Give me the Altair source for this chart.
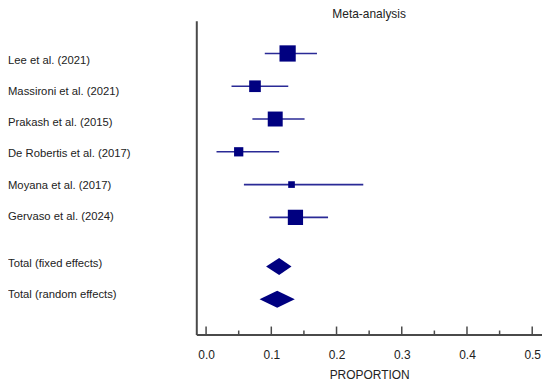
import altair as alt
import pandas as pd

# ---- data ----
studies = ["Lee et al. (2021)", "Massironi et al. (2021)", "Prakash et al. (2015)",
           "De Robertis et al. (2017)", "Moyana et al. (2017)", "Gervaso et al. (2024)"]
study_row = [1, 2, 3, 4, 5, 6]
study_est = [0.125, 0.075, 0.106, 0.050, 0.131, 0.137]
study_lo = [0.090, 0.039, 0.071, 0.016, 0.058, 0.097]
study_hi = [0.170, 0.126, 0.151, 0.112, 0.241, 0.187]
study_weight = [26.8, 13.8, 22.7, 8.7, 4.5, 23.6]  # relative weight, %

totals = ["Total (fixed effects)", "Total (random effects)"]
total_row = [7.5, 8.5]
total_est = [0.112, 0.109]
total_lo = [0.092, 0.082]
total_hi = [0.131, 0.136]

major_ticks = [0.0, 0.1, 0.2, 0.3, 0.4, 0.5]
minor_ticks = [0.05, 0.15, 0.25, 0.35, 0.45]

# ---- tables ----
df_s = pd.DataFrame({"label": studies, "row": study_row, "est": study_est,
                     "lo": study_lo, "hi": study_hi, "w": study_weight})
half_h = 0.26  # diamond half-height in row units
poly = []
for lab, r, e, lo, hi in zip(totals, total_row, total_est, total_lo, total_hi):
    poly.append({"label": lab, "x": lo, "y": r, "y2": r})
    poly.append({"label": lab, "x": e, "y": r - half_h, "y2": r + half_h})
    poly.append({"label": lab, "x": hi, "y": r, "y2": r})
df_d = pd.DataFrame(poly)
df_lab = pd.DataFrame({"label": studies + totals, "row": study_row + total_row})
df_maj = pd.DataFrame({"t": major_ticks})
df_min = pd.DataFrame({"t": minor_ticks})

W, H = 347, 315
FONT = "Liberation Sans"
AX = "#4a4a4a"
NAVY = "#000080"

xs = alt.Scale(domain=[-0.015, 0.515], nice=False, zero=False)
ys = alt.Scale(domain=[0, 9.574], reverse=True, nice=False, zero=False)
ys_lab = alt.Scale(domain=[-0.274, 9.758], reverse=True, nice=False, zero=False)

xaxis = alt.Axis(values=major_ticks, format=".1f", ticks=False, grid=False,
                 domainColor=AX, domainWidth=2, labelFontSize=12, labelFont=FONT,
                 labelColor="#222", labelPadding=15, titleFontSize=12, titleFont=FONT,
                 titleFontWeight="normal", titleColor="#222", titlePadding=9)
yaxis = alt.Axis(labels=False, ticks=False, grid=False, domainColor=AX, domainWidth=2)

base_s = alt.Chart(df_s)
ci = base_s.mark_rule(color="#2a2a96", strokeWidth=1.6).encode(
    x=alt.X("lo:Q", scale=xs, axis=xaxis, title="PROPORTION"),
    x2="hi:Q",
    y=alt.Y("row:Q", scale=ys, axis=yaxis, title=None),
)
sq = base_s.mark_square(color=NAVY, opacity=1, filled=True).encode(
    x=alt.X("est:Q", scale=xs),
    y=alt.Y("row:Q", scale=ys, axis=None),
    size=alt.Size("w:Q", scale=alt.Scale(domain=[0, 100], range=[0, 993]), legend=None),
)
dia = alt.Chart(df_d).mark_area(color=NAVY, orient="vertical", opacity=1).encode(
    x=alt.X("x:Q", scale=xs),
    y=alt.Y("y:Q", scale=ys, stack=False, axis=None),
    y2="y2:Q",
    detail="label:N",
)
labels = alt.Chart(df_lab).mark_text(align="left", baseline="middle", font=FONT,
                                     fontSize=11.3, color="#222").encode(
    x=alt.value(-189),
    y=alt.Y("row:Q", scale=ys_lab, axis=None),
    text="label:N",
)
tmaj = alt.Chart(df_maj).mark_rule(color=AX, strokeWidth=1.5).encode(
    x=alt.X("t:Q", scale=xs), y=alt.value(H), y2=alt.value(H - 8))
tmin = alt.Chart(df_min).mark_rule(color=AX, strokeWidth=1.5).encode(
    x=alt.X("t:Q", scale=xs), y=alt.value(H), y2=alt.value(H - 4))

chart = alt.layer(ci, sq, dia, labels, tmaj, tmin).resolve_scale(y="independent").properties(
    width=W, height=H,
    title=alt.Title("Meta-analysis", fontSize=12, font=FONT, fontWeight="normal",
                    color="#222", anchor="middle", offset=0),
    autosize=alt.AutoSizeParams(type="none"),
    padding={"left": 189, "top": 12, "right": 0, "bottom": 64},
).configure_view(stroke=None)

chart.save("out.html", embed_options={"renderer": "svg", "actions": False})
